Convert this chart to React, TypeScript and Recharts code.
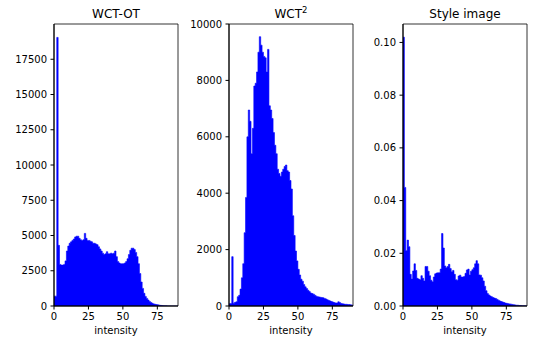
import React from "react"
import { AreaChart, Area, XAxis, YAxis, ReferenceArea } from "recharts"

// histogram bins: left edges 0..89, width 1
const binStarts = Array.from({ length: 90 }, (_, i) => i)
const binEnd = 90
const xTicks = [0, 25, 50, 75]

const wctOt = [
  700, 700, 19050, 4300, 2950, 2900, 2900, 2950, 3200, 3900,
  4250, 4450, 4550, 4650, 4750, 4900, 4950, 4950, 4800, 4700,
  4650, 4700, 5150, 4800, 4650, 4650, 4600, 4550, 4450, 4450,
  4400, 4350, 4200, 4050, 3900, 3750, 3650, 3700, 3850, 3700,
  3700, 3750, 3700, 3750, 3900, 3500, 3150, 3050, 3000, 3000,
  3000, 3050, 3150, 3350, 3650, 3950, 4100, 4100, 4000, 3800,
  3500, 3000, 2300, 1700, 1250, 900, 680, 540, 420, 320,
  250, 190, 150, 120, 100, 80, 60, 45, 30, 20,
  15, 10, 6, 4, 2, 1, 0, 0, 0, 0,
]

const wct2 = [
  80, 90, 1750, 100, 130, 150, 330, 380, 600, 1000,
  1500, 2600, 3850, 6000, 6950, 6550, 5400, 6300, 7800, 7900,
  8300, 9000, 9550, 9250, 9000, 8850, 8800, 8300, 9100, 7100,
  6950, 6650, 6150, 5700, 5400, 4850, 4700, 4600, 4750, 4850,
  4950, 5000, 4800, 4750, 4450, 4150, 3200, 2500, 1950, 1600,
  1300, 1100, 950, 880, 760, 680, 620, 560, 510, 460,
  440, 420, 380, 350, 330, 320, 310, 300, 290, 270,
  250, 220, 200, 180, 160, 140, 120, 110, 110, 150,
  120, 90, 80, 70, 60, 60, 50, 50, 40, 30,
]

const styleImage = [
  0.102, 0.045, 0.021, 0.025, 0.0225, 0.012, 0.0102, 0.0133, 0.016, 0.0135,
  0.0105, 0.0102, 0.01, 0.0115, 0.0105, 0.0095, 0.015, 0.015, 0.0132, 0.0115,
  0.0098, 0.0092, 0.011, 0.0122, 0.0125, 0.0126, 0.0126, 0.014, 0.0275, 0.022,
  0.0152, 0.0145, 0.015, 0.0158, 0.0142, 0.013, 0.0135, 0.012, 0.01, 0.0098,
  0.0114, 0.0117, 0.011, 0.011, 0.0112, 0.0124, 0.0137, 0.014, 0.0118, 0.0132,
  0.0138, 0.0145, 0.016, 0.0172, 0.016, 0.0118, 0.0117, 0.0107, 0.0095, 0.0075,
  0.0058, 0.0047, 0.0042, 0.0038, 0.0035, 0.0032, 0.003, 0.0028, 0.0025, 0.0022,
  0.0019, 0.0017, 0.0015, 0.0013, 0.0011, 0.001, 0.0009, 0.0008, 0.0007, 0.0006,
  0.0005, 0.0004, 0.0003, 0.0003, 0.0002, 0.0002, 0.0001, 0.0001, 0.0001, 0,
]

const wctOtTicks = [0, 2500, 5000, 7500, 10000, 12500, 15000, 17500]
const wct2Ticks = [0, 2000, 4000, 6000, 8000, 10000]
const styleTicks = [0, 0.02, 0.04, 0.06, 0.08, 0.1]

const font = "'DejaVu Sans', sans-serif"
const tickStyle = { fontSize: 10, fill: "#000", fontFamily: font }

function toBins(values: number[]) {
  const rows = values.map((v, i) => ({ x: binStarts[i], v }))
  rows.push({ x: binEnd, v: values[values.length - 1] })
  return rows
}

type HistProps = {
  left: number
  title: React.ReactNode
  values: number[]
  yMax: number
  yTicks: number[]
  fmt?: (v: number) => string
}

function Hist({ left, title, values, yMax, yTicks, fmt }: HistProps) {
  return (
    <div style={{ position: "absolute", left, top: 0, width: 180, height: 337 }}>
      <div
        style={{
          position: "absolute",
          left: 54,
          width: 124,
          top: 8,
          textAlign: "center",
          fontSize: 12,
          lineHeight: "12px",
          fontFamily: font,
          whiteSpace: "nowrap",
          color: "#000",
        }}
      >
        {title}
      </div>
      <AreaChart width={180} height={337} data={toBins(values)} margin={{ top: 24, right: 2, bottom: 0, left: 0 }}>
        <XAxis
          type="number"
          dataKey="x"
          domain={[0, binEnd]}
          ticks={xTicks}
          interval={0}
          height={31}
          tickSize={3.5}
          tickMargin={3.5}
          tick={tickStyle}
          stroke="#000"
          label={{ value: "intensity", position: "insideBottom", offset: 3, fontSize: 10, fill: "#000", fontFamily: font }}
        />
        <YAxis
          type="number"
          domain={[0, yMax]}
          ticks={yTicks}
          interval={0}
          width={54}
          tickSize={3.5}
          tickMargin={3.5}
          tick={tickStyle}
          stroke="#000"
          tickFormatter={fmt}
          allowDataOverflow
        />
        <Area
          type="stepAfter"
          dataKey="v"
          fill="#0000ff"
          fillOpacity={1}
          stroke="#0000ff"
          strokeWidth={0.6}
          isAnimationActive={false}
        />
        <ReferenceArea x1={0} x2={binEnd} y1={0} y2={yMax} fill="none" stroke="#000" strokeWidth={0.8} />
      </AreaChart>
    </div>
  )
}

export default function App() {
  return (
    <div style={{ position: "absolute", left: 0, top: 0, width: 533, height: 337, background: "#fff" }}>
      <Hist left={0} title="WCT-OT" values={wctOt} yMax={20000} yTicks={wctOtTicks} />
      <Hist
        left={175}
        title={
          <span>
            WCT<span style={{ position: "relative", top: -5, fontSize: 8.5 }}>2</span>
          </span>
        }
        values={wct2}
        yMax={10000}
        yTicks={wct2Ticks}
      />
      <Hist
        left={349}
        title="Style image"
        values={styleImage}
        yMax={0.107}
        yTicks={styleTicks}
        fmt={(v: number) => v.toFixed(2)}
      />
    </div>
  )
}
